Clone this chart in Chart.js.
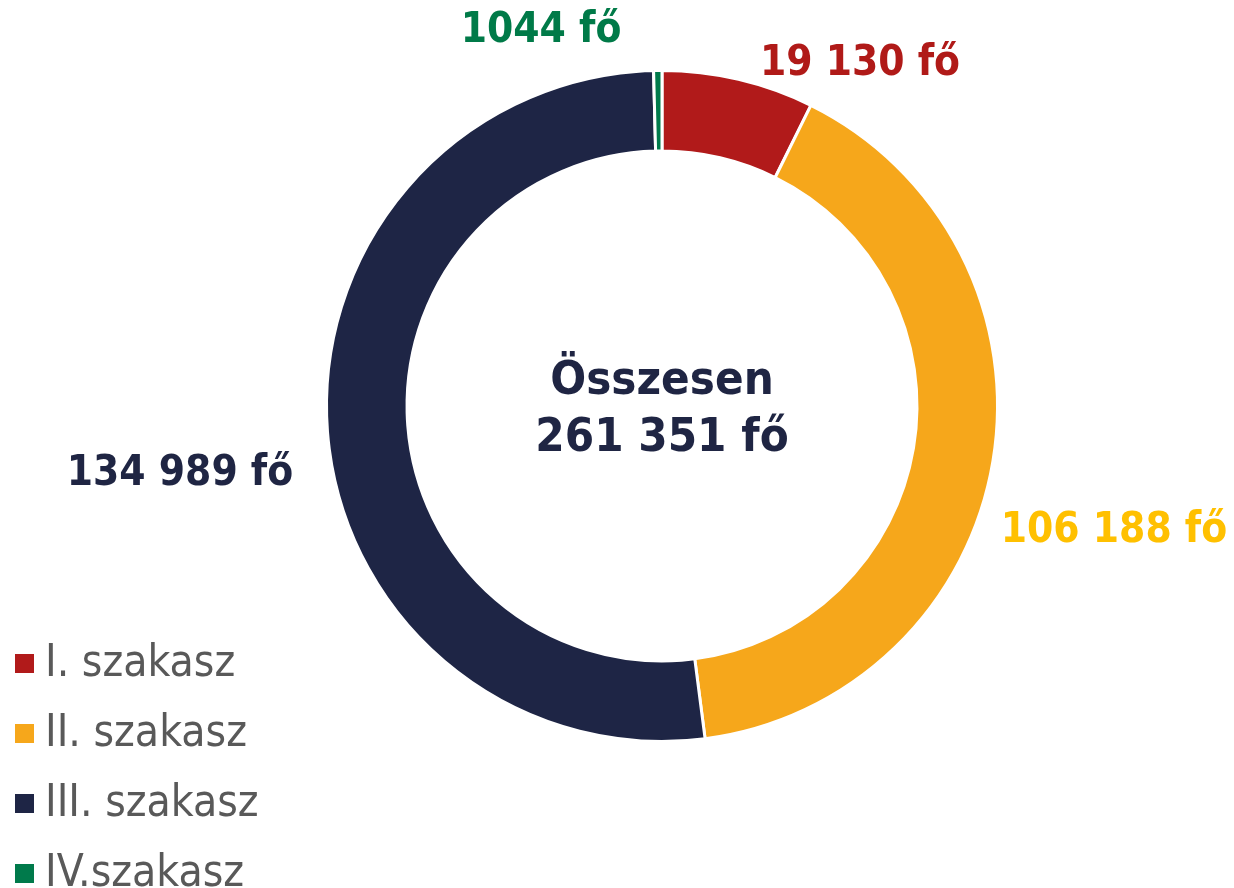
<!DOCTYPE html>
<html>
<head>
<meta charset="utf-8">
<script src="https://cdn.jsdelivr.net/npm/chart.js@4/dist/chart.umd.min.js"></script>
<style>
  html, body { margin: 0; padding: 0; background: #fff; }
  #wrap { width: 1234px; height: 888px; position: relative; }
</style>
</head>
<body>
<div id="wrap"><canvas id="myChart" width="1234" height="888"></canvas></div>
<script>
// data
const categories = ["I. szakasz", "II. szakasz", "III. szakasz", "IV.szakasz"];
const people = [19130, 106188, 134989, 1044];
const totalLabel = ["Összesen", "261 351 fő"];

const sliceColors = ["#B11A1A", "#F6A71B", "#1E2545", "#007A4B"];
const labelColors = ["#B01A18", "#FFC000", "#1F2543", "#007A48"];
// where the value labels sit, relative to the doughnut centre
const labelOffsets = [[198, -342], [452, 125], [-482, 68], [-121, -375]];

function fmt(v) {
    // 19130 -> "19 130 fő", 1044 stays "1044 fő" as in the source
    if (v < 10000) return v + " fő";
    return String(v).replace(/\B(?=(\d{3})+(?!\d))/g, " ") + " fő";
}

const textPlugin = {
    id: "texts",
    afterDraw(chart) {
        const ctx = chart.ctx;
        const meta = chart.getDatasetMeta(0);
        const cx = meta.data[0].x, cy = meta.data[0].y;
        ctx.save();
        ctx.textAlign = "center";
        ctx.textBaseline = "middle";

        // value labels
        ctx.font = "bold 42px 'DejaVu Sans Condensed', 'DejaVu Sans', Verdana, sans-serif";
        people.forEach(function (v, i) {
            ctx.fillStyle = labelColors[i];
            ctx.fillText(fmt(v), cx + labelOffsets[i][0], cy + labelOffsets[i][1]);
        });

        // centre text
        ctx.font = "bold 47px 'DejaVu Sans Condensed', 'DejaVu Sans', Verdana, sans-serif";
        ctx.fillStyle = "#1F2543";
        ctx.fillText(totalLabel[0], cx, cy - 24);
        ctx.fillText(totalLabel[1], cx, cy + 33);

        // legend, bottom left
        ctx.textAlign = "left";
        ctx.font = "44px 'DejaVu Sans Condensed', 'DejaVu Sans', sans-serif";
        categories.forEach(function (c, i) {
            const y = 663 + i * 70;
            ctx.fillStyle = sliceColors[i];
            ctx.fillRect(15, y - 9, 19, 19);
            ctx.fillStyle = "#595959";
            ctx.fillText(c, 45, y + 2);
        });
        ctx.restore();
    }
};

new Chart("myChart", {
    type: "doughnut",
    data: {
        labels: categories,
        datasets: [{
            data: people,
            backgroundColor: sliceColors,
            borderColor: "#ffffff",
            borderWidth: 3
        }]
    },
    options: {
        responsive: false,
        animation: false,
        cutout: "76%",
        rotation: 0,
        layout: { padding: { left: 325, top: 69, right: 235, bottom: 145 } },
        plugins: {
            legend: { display: false },
            tooltip: { enabled: false }
        }
    },
    plugins: [textPlugin]
});
</script>
</body>
</html>
